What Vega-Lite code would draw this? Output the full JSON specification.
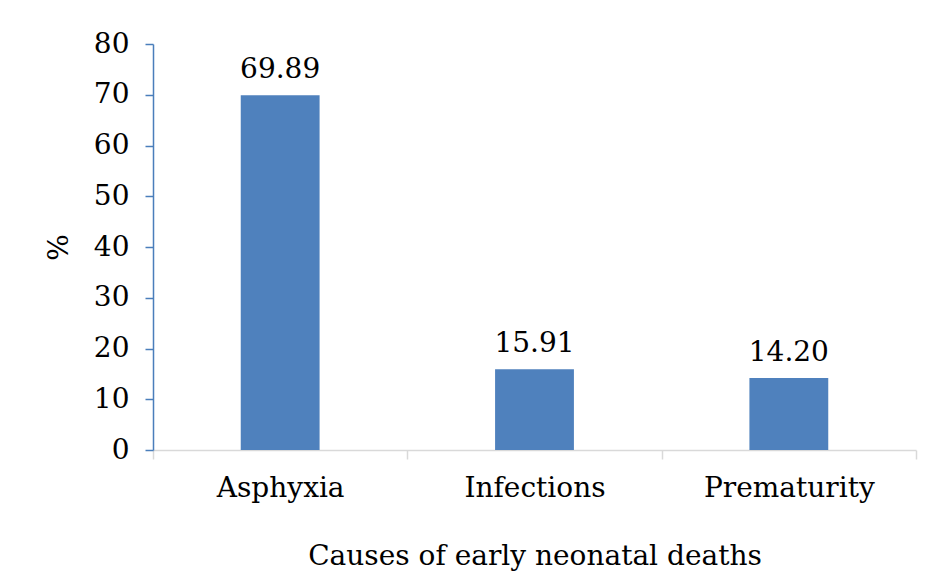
{
  "$schema": "https://vega.github.io/schema/vega-lite/v6.json",
  "autosize": "none",
  "width": 763,
  "height": 406,
  "padding": {"left": 153, "top": 44, "right": 14, "bottom": 126},
  "background": "white",
  "data": {"values": [
    {"cause": "Asphyxia", "pct": 69.89},
    {"cause": "Infections", "pct": 15.91},
    {"cause": "Prematurity", "pct": 14.20}
  ]},
  "encoding": {
    "x": {"field": "cause", "type": "nominal", "sort": null,
      "scale": {"paddingInner": 0, "paddingOuter": 0},
      "axis": {"title": "Causes of early neonatal deaths", "labelAngle": 0, "tickBand": "extent",
        "domainColor": "#d9d9d9", "tickColor": "#d9d9d9", "tickSize": 9, "domainWidth": 1.5, "tickWidth": 1.5,
        "labelFont": "DejaVu Serif", "labelFontSize": 28, "labelColor": "#000000", "labelPadding": 15,
        "titleFont": "DejaVu Serif", "titleFontSize": 28, "titleFontWeight": "normal", "titleColor": "#000000", "titlePadding": 40}},
    "y": {"field": "pct", "type": "quantitative",
      "scale": {"domain": [0, 80]},
      "axis": {"title": "%", "values": [0,10,20,30,40,50,60,70,80], "grid": false,
        "domainColor": "#4a7ebb", "tickColor": "#4a7ebb", "tickSize": 8, "domainWidth": 1.5, "tickWidth": 1.5,
        "labelFont": "DejaVu Serif", "labelFontSize": 28, "labelColor": "#000000", "labelPadding": 16,
        "titleFont": "DejaVu Serif", "titleFontSize": 28, "titleFontWeight": "normal", "titleColor": "#000000", "titlePadding": 20}}
  },
  "layer": [
    {"mark": {"type": "bar", "color": "#4f81bd", "width": {"band": 0.31}}},
    {"mark": {"type": "text", "font": "DejaVu Serif", "fontSize": 28, "color": "#000000", "baseline": "bottom", "dy": -11},
      "encoding": {"text": {"field": "pct", "type": "quantitative", "format": ".2f"}}}
  ],
  "config": {"view": {"stroke": null}}
}
